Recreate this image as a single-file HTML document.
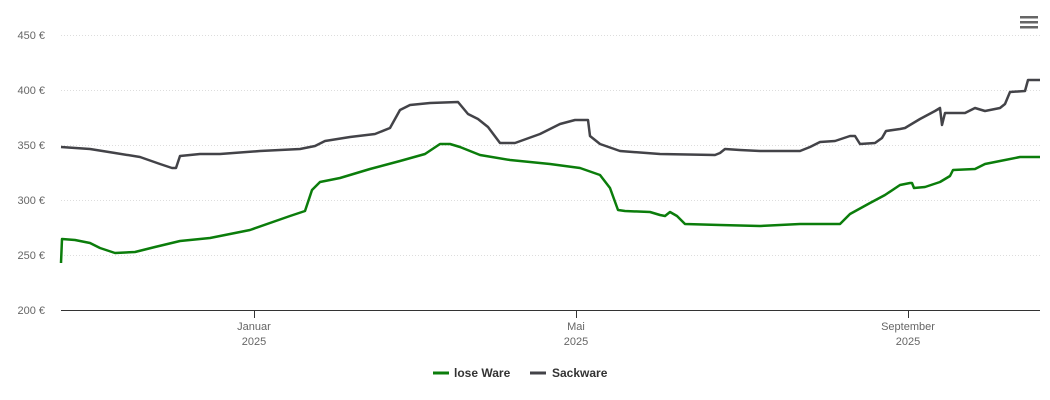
<!DOCTYPE html>
<html><head><meta charset="utf-8"><style>
body{margin:0;background:#fff;}
svg{display:block;font-family:"Liberation Sans",sans-serif;}
</style></head><body>
<svg width="1050" height="400" viewBox="0 0 1050 400">
<g stroke="#ddd" stroke-width="1" stroke-dasharray="1,2">
<line x1="61" x2="1040" y1="35.5" y2="35.5"/>
<line x1="61" x2="1040" y1="90.5" y2="90.5"/>
<line x1="61" x2="1040" y1="145.5" y2="145.5"/>
<line x1="61" x2="1040" y1="200.5" y2="200.5"/>
<line x1="61" x2="1040" y1="255.5" y2="255.5"/>
</g>
<line x1="61" x2="1040" y1="310.5" y2="310.5" stroke="#333"/>
<g stroke="#333"><line x1="254.5" x2="254.5" y1="310" y2="318"/><line x1="576.5" x2="576.5" y1="310" y2="318"/><line x1="908.5" x2="908.5" y1="310" y2="318"/></g>
<g fill="#666" font-size="11" text-anchor="end">
<text x="45" y="39">450 €</text><text x="45" y="94">400 €</text><text x="45" y="149">350 €</text>
<text x="45" y="204">300 €</text><text x="45" y="259">250 €</text><text x="45" y="314">200 €</text>
</g>
<g fill="#666" font-size="11" text-anchor="middle">
<text x="254" y="330">Januar</text><text x="254" y="345">2025</text>
<text x="576" y="330">Mai</text><text x="576" y="345">2025</text>
<text x="908" y="330">September</text><text x="908" y="345">2025</text>
</g>
<g fill="#666"><rect x="1020" y="16" width="18" height="2.5"/><rect x="1020" y="21" width="18" height="2.5"/><rect x="1020" y="26" width="18" height="2.5"/></g>
<polyline fill="none" stroke="#434348" stroke-width="2.5" stroke-linejoin="round" points="61,147 90,149 115,153 140,157 160,164 172,168 176,168 180,156 200,154 220,154 260,151 300,149 315,146 325,141 350,137 375,134 390,128 400,110 410,105 430,103 458,102 468,114 478,119 488,127 500,143 515,143 540,134 560,124 575,120 588,120 590,136 600,144 620,151 660,154 715,155 720,153 725,149 740,150 760,151 800,151 810,147 820,142 835,141 850,136 855,136 860,144 875,143 882,138 886,131 900,129 905,128 920,119 935,111 940,108 942,125 945,113 965,113 975,108 985,111 1000,108 1005,104 1010,92 1025,91 1028,80 1040,80"/>
<polyline fill="none" stroke="#0b7d0b" stroke-width="2.5" stroke-linejoin="round" points="61,263 62,239 75,240 90,243 100,248 115,253 135,252 155,247 180,241 210,238 250,230 290,216 305,211 312,190 320,182 340,178 370,169 400,161 425,154 440,144 450,144 460,147 480,155 510,160 550,164 580,168 600,175 610,188 618,210 625,211 650,212 660,215 665,216 670,212 677,216 685,224 720,225 760,226 800,224 840,224 850,214 870,203 885,195 900,185 910,183 912,183 914,188 925,187 940,182 950,176 953,170 975,169 985,164 1000,161 1020,157 1040,157"/>
<line x1="433" x2="449" y1="373" y2="373" stroke="#0b7d0b" stroke-width="3"/>
<text x="454" y="377" font-size="12" font-weight="bold" fill="#333">lose Ware</text>
<line x1="530" x2="546" y1="373" y2="373" stroke="#434348" stroke-width="3"/>
<text x="552" y="377" font-size="12" font-weight="bold" fill="#333">Sackware</text>
</svg>
</body></html>
